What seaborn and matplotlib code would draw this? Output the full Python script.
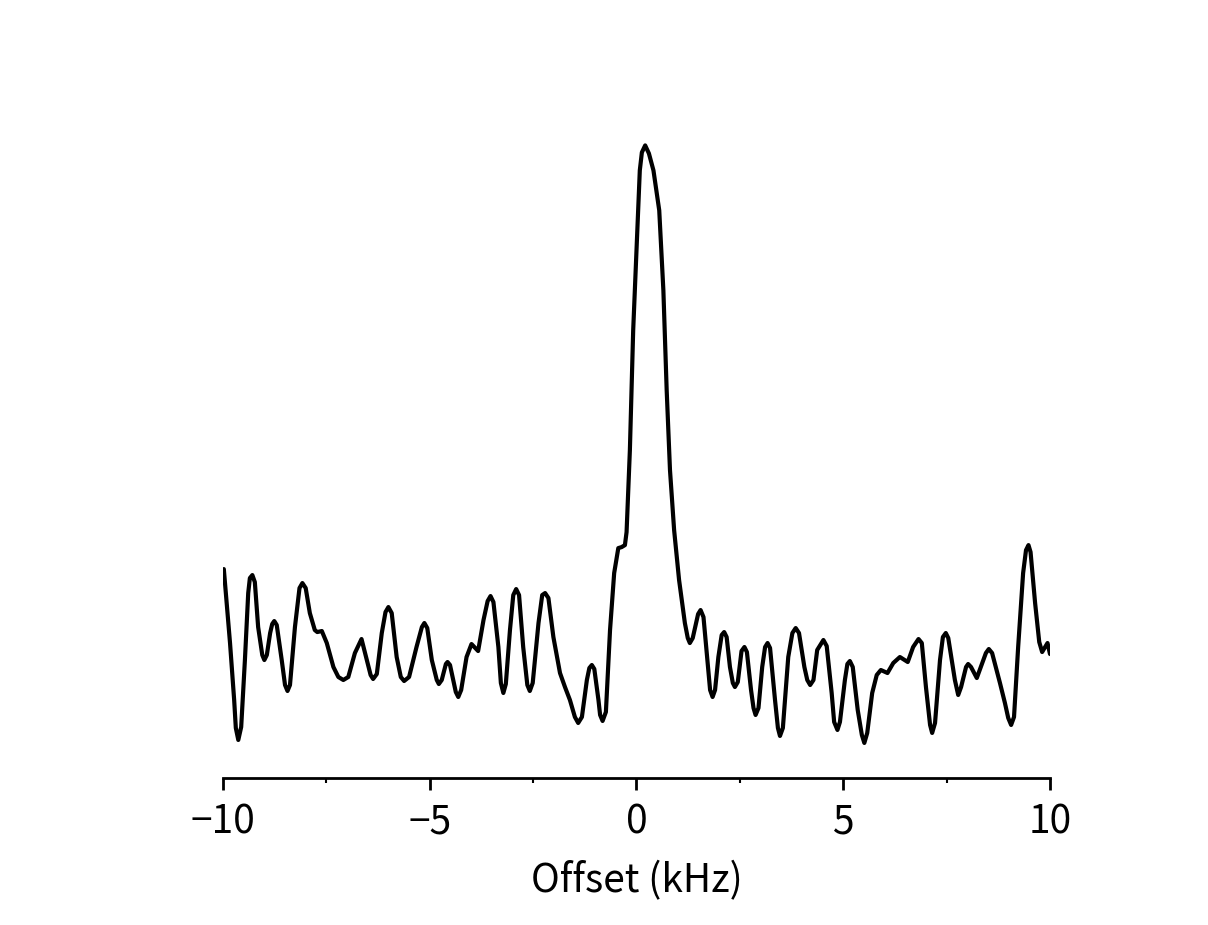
import numpy as np
import pandas as pd
import matplotlib
matplotlib.use("Agg")
import matplotlib.pyplot as plt
import seaborn as sns
from matplotlib.ticker import MultipleLocator

offset_khz = [
    -9.98, -9.83, -9.73, -9.69, -9.63, -9.56, -9.47, -9.39, -9.35, -9.29,
    -9.23, -9.15, -9.05, -9.00, -8.94, -8.86, -8.81, -8.76, -8.70, -8.58,
    -8.50, -8.44, -8.38, -8.26, -8.15, -8.08, -8.00, -7.90, -7.78, -7.72,
    -7.61, -7.49, -7.33, -7.21, -7.09, -6.97, -6.81, -6.65, -6.43, -6.37,
    -6.28, -6.16, -6.07, -6.00, -5.92, -5.80, -5.70, -5.62, -5.50, -5.32,
    -5.19, -5.13, -5.06, -4.95, -4.83, -4.78, -4.71, -4.61, -4.57, -4.51,
    -4.37, -4.31, -4.24, -4.11, -3.99, -3.83, -3.70, -3.60, -3.53, -3.46,
    -3.34, -3.28, -3.22, -3.16, -3.06, -2.98, -2.91, -2.84, -2.74, -2.64,
    -2.58, -2.51, -2.37, -2.28, -2.21, -2.13, -2.01, -1.85, -1.73, -1.61,
    -1.49, -1.41, -1.32, -1.20, -1.14, -1.08, -1.02, -0.92, -0.88, -0.82,
    -0.74, -0.64, -0.54, -0.44, -0.36, -0.28, -0.24, -0.16, -0.08, 0.02,
    0.08, 0.13, 0.21, 0.30, 0.41, 0.55, 0.65, 0.73, 0.81, 0.91,
    1.03, 1.17, 1.24, 1.29, 1.36, 1.49, 1.55, 1.62, 1.72, 1.78,
    1.84, 1.90, 1.98, 2.06, 2.12, 2.18, 2.26, 2.33, 2.38, 2.45,
    2.54, 2.61, 2.67, 2.77, 2.83, 2.88, 2.95, 3.04, 3.11, 3.17,
    3.23, 3.35, 3.42, 3.47, 3.54, 3.67, 3.77, 3.85, 3.93, 4.06,
    4.13, 4.20, 4.28, 4.37, 4.52, 4.60, 4.72, 4.78, 4.86, 4.92,
    5.04, 5.10, 5.16, 5.23, 5.35, 5.45, 5.51, 5.58, 5.70, 5.81,
    5.91, 6.07, 6.21, 6.37, 6.56, 6.69, 6.82, 6.90, 7.00, 7.10,
    7.15, 7.22, 7.34, 7.41, 7.48, 7.54, 7.70, 7.78, 7.85, 7.97,
    8.02, 8.09, 8.23, 8.45, 8.52, 8.60, 8.79, 8.91, 8.99, 9.06,
    9.13, 9.23, 9.35, 9.42, 9.48, 9.53, 9.64, 9.74, 9.81, 9.94,
    10.00]
intensity = [
    209, 135, 78, 50, 38, 51, 118, 185, 200, 203,
    196, 151, 123, 118, 123, 145, 154, 157, 153, 118,
    93, 87, 93, 151, 190, 195, 190, 165, 148, 146,
    147, 135, 111, 101, 98, 101, 125, 139, 103, 99,
    104, 145, 166, 171, 165, 121, 101, 97, 101, 131,
    151, 155, 150, 118, 98, 94, 98, 114, 116, 113,
    86, 81, 88, 121, 134, 127, 158, 177, 182, 176,
    131, 95, 85, 94, 148, 183, 189, 183, 131, 93,
    87, 95, 155, 183, 185, 180, 141, 105, 91, 78,
    61, 55, 61, 98, 110, 113, 109, 78, 63, 57,
    66, 148, 205, 230, 231, 233, 246, 328, 448, 548,
    608, 626, 633, 625, 608, 568, 488, 388, 308, 248,
    198, 155, 140, 135, 140, 164, 168, 161, 115, 88,
    81, 88, 121, 143, 146, 141, 111, 95, 91, 96,
    127, 131, 126, 88, 70, 63, 70, 111, 131, 135,
    130, 78, 50, 42, 50, 121, 145, 150, 145, 111,
    98, 93, 98, 128, 138, 132, 85, 56, 48, 56,
    98, 114, 117, 111, 68, 43, 35, 45, 85, 103,
    108, 105, 115, 121, 116, 131, 139, 135, 91, 53,
    45, 55, 118, 141, 145, 140, 98, 83, 91, 111,
    114, 111, 100, 125, 129, 125, 95, 75, 60, 53,
    61, 131, 205, 228, 233, 226, 175, 136, 126, 135,
    124]
xticks = [-10, -5, 0, 5, 10]
xlabel = "Offset (kHz)"

df = pd.DataFrame({"offset": offset_khz, "intensity": intensity})

sns.set_theme(style="white")
plt.rcParams['font.family'] = ['Noto Sans CJK JP', 'DejaVu Sans']
plt.rcParams['axes.unicode_minus'] = True

fig = plt.figure(figsize=(12.08, 9.25), dpi=100)
ax = fig.add_axes([0.1846, 0.159, 0.6846, 0.700])
sns.lineplot(data=df, x="offset", y="intensity", ax=ax, color="black",
             sort=False)
for line in ax.lines:
    line.set_linewidth(3.0)
    line.set_solid_joinstyle("round")
    line.set_solid_capstyle("round")

ax.set_xlim(-10, 10)
ax.set_ylim(0, 648)
ax.set_xticks(xticks)
ax.set_xticklabels([f"{t}".replace("-", "\u2212") for t in xticks])
ax.xaxis.set_minor_locator(MultipleLocator(2.5))
ax.set_yticks([])
ax.set_ylabel("")
ax.set_xlabel(xlabel, fontsize=28, labelpad=14, color="black")

for s in ["left", "right", "top"]:
    ax.spines[s].set_visible(False)
ax.spines["bottom"].set_linewidth(2)
ax.spines["bottom"].set_color("black")
ax.tick_params(axis="x", which="major", direction="out", length=8.5, width=2,
               color="black", labelsize=28, labelcolor="black", pad=9, bottom=True)
ax.tick_params(axis="x", which="minor", direction="out", length=3.6, width=1.5,
               color="black", bottom=True)
ax.patch.set_alpha(0)
fig.patch.set_facecolor("white")

fig.savefig("out.png", dpi=100)
